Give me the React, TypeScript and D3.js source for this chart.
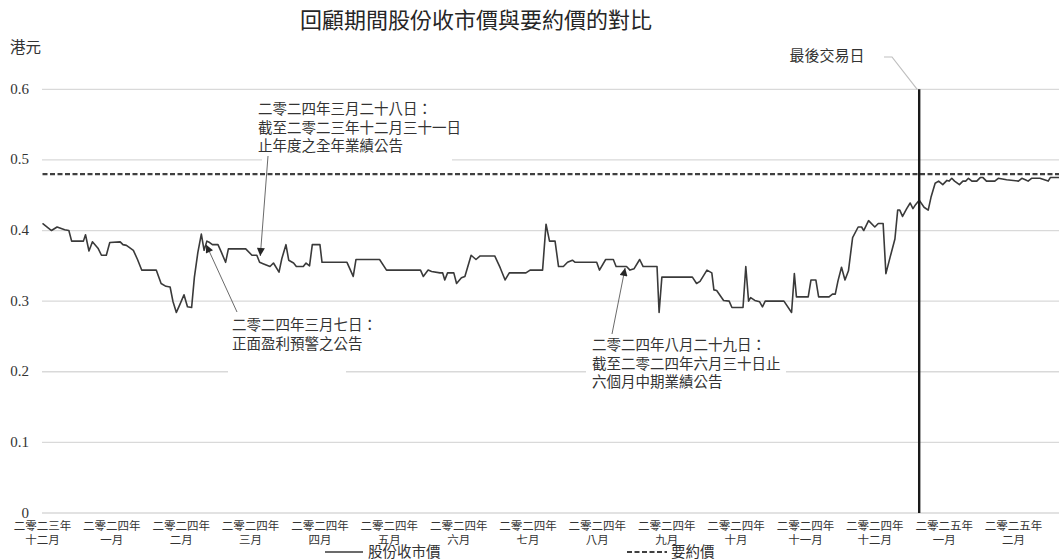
import { scaleLinear, line as d3_line } from "d3";

// x is measured in months from the start of Dec 2023 (category slots are evenly spaced)
const monthYears = [
  "二零二三年", "二零二四年", "二零二四年", "二零二四年", "二零二四年", "二零二四年", "二零二四年", "二零二四年",
  "二零二四年", "二零二四年", "二零二四年", "二零二四年", "二零二四年", "二零二五年", "二零二五年",
];
const monthNames = [
  "十二月", "一月", "二月", "三月", "四月", "五月", "六月", "七月",
  "八月", "九月", "十月", "十一月", "十二月", "一月", "二月",
];
const yTicks = [0, 0.1, 0.2, 0.3, 0.4, 0.5, 0.6];
const yTickLabels = ["0", "0.1", "0.2", "0.3", "0.4", "0.5", "0.6"];

const offerPrice = 0.48;
const lastTradingDay = 12.64;
const periodEnd = 14.66;

const priceMonth = [
  0.0, 0.13, 0.21, 0.32, 0.38, 0.42, 0.59, 0.62, 0.67, 0.72, 0.8, 0.85, 0.92, 0.97, 1.12, 1.16, 1.21, 1.31, 1.37,
  1.43, 1.64, 1.68, 1.71, 1.78, 1.84, 1.88, 1.93, 1.98, 2.04, 2.09, 2.15, 2.19, 2.24, 2.29, 2.33, 2.37, 2.41, 2.45,
  2.53, 2.58, 2.64, 2.68, 2.93, 3.02, 3.09, 3.13, 3.18, 3.28, 3.33, 3.41, 3.45, 3.51, 3.55, 3.62, 3.66, 3.76, 3.8,
  3.85, 3.89, 4.0, 4.03, 4.39, 4.48, 4.52, 4.86, 4.96, 5.45, 5.49, 5.56, 5.61, 5.73, 5.77, 5.8, 5.84, 5.93, 5.97,
  6.04, 6.09, 6.18, 6.25, 6.31, 6.52, 6.6, 6.67, 6.73, 6.97, 7.03, 7.21, 7.26, 7.31, 7.39, 7.44, 7.51, 7.57, 7.64,
  7.68, 7.99, 8.03, 8.12, 8.23, 8.27, 8.42, 8.47, 8.53, 8.61, 8.66, 8.86, 8.89, 8.93, 9.37, 9.43, 9.48, 9.58, 9.65,
  9.68, 9.72, 9.82, 9.9, 9.94, 10.1, 10.14, 10.18, 10.21, 10.27, 10.34, 10.38, 10.42, 10.69, 10.8, 10.84, 10.87,
  11.04, 11.08, 11.15, 11.19, 11.34, 11.39, 11.43, 11.47, 11.52, 11.57, 11.62, 11.68, 11.76, 11.81, 11.84, 11.91,
  12.0, 12.05, 12.12, 12.16, 12.22, 12.29, 12.33, 12.36, 12.4, 12.46, 12.51, 12.55, 12.59, 12.64, 12.71, 12.77,
  12.81, 12.87, 12.92, 12.98, 13.04, 13.07, 13.11, 13.15, 13.22, 13.27, 13.31, 13.35, 13.4, 13.47, 13.52, 13.56,
  13.61, 13.73, 13.78, 13.9, 14.07, 14.12, 14.17, 14.21, 14.26, 14.38, 14.5, 14.53, 14.66,
];
const priceHKD = [
  0.41, 0.4, 0.405, 0.401, 0.4, 0.385, 0.385, 0.394, 0.371, 0.384, 0.375, 0.365, 0.365, 0.383, 0.384, 0.38, 0.379,
  0.372, 0.359, 0.344, 0.344, 0.333, 0.325, 0.321, 0.32, 0.3, 0.284, 0.295, 0.309, 0.292, 0.291, 0.334, 0.369,
  0.395, 0.372, 0.385, 0.383, 0.38, 0.38, 0.369, 0.355, 0.374, 0.374, 0.365, 0.365, 0.355, 0.353, 0.349, 0.354,
  0.341, 0.36, 0.38, 0.358, 0.354, 0.349, 0.349, 0.354, 0.35, 0.38, 0.38, 0.355, 0.355, 0.335, 0.359, 0.359, 0.344,
  0.344, 0.335, 0.344, 0.342, 0.34, 0.34, 0.33, 0.34, 0.34, 0.325, 0.333, 0.335, 0.365, 0.359, 0.364, 0.364, 0.347,
  0.33, 0.34, 0.34, 0.344, 0.344, 0.409, 0.385, 0.385, 0.349, 0.349, 0.355, 0.358, 0.355, 0.355, 0.344, 0.359,
  0.359, 0.349, 0.349, 0.344, 0.346, 0.359, 0.349, 0.349, 0.284, 0.334, 0.334, 0.325, 0.328, 0.344, 0.34, 0.316,
  0.315, 0.301, 0.3, 0.291, 0.291, 0.349, 0.3, 0.305, 0.301, 0.299, 0.292, 0.3, 0.3, 0.284, 0.339, 0.306, 0.306,
  0.33, 0.33, 0.306, 0.306, 0.31, 0.31, 0.329, 0.348, 0.33, 0.343, 0.39, 0.405, 0.405, 0.4, 0.414, 0.405, 0.41,
  0.41, 0.339, 0.362, 0.388, 0.429, 0.429, 0.42, 0.431, 0.439, 0.431, 0.437, 0.443, 0.433, 0.429, 0.447, 0.467,
  0.47, 0.465, 0.471, 0.47, 0.474, 0.47, 0.465, 0.47, 0.47, 0.474, 0.47, 0.47, 0.475, 0.475, 0.47, 0.47, 0.474,
  0.472, 0.47, 0.474, 0.472, 0.47, 0.474, 0.474, 0.47, 0.475, 0.475,
];

// announcements: text lines, arrow tip on the price line (data units)
const noteLines = [
  ["二零二四年三月二十八日：", "截至二零二三年十二月三十一日", "止年度之全年業績公告"],
  ["二零二四年三月七日：", "正面盈利預警之公告"],
  ["二零二四年八月二十九日：", "截至二零二四年六月三十日止", "六個月中期業績公告"],
];
const noteTipMonth = [3.14, 2.36, 8.4];
const noteTipValue = [0.364, 0.38, 0.347];

const FONT = "'Liberation Serif', 'Noto Sans CJK TC', serif";
const TEXT = "#333333";

export default function App() {
  const x = scaleLinear().domain([0, periodEnd]).range([42.5, 1059.3]);
  const y = scaleLinear().domain([0, 0.6]).range([513, 89.3]);

  const pts = priceMonth.map((m, i) => [m, priceHKD[i]] as [number, number]);
  const pricePath = d3_line<[number, number]>()
    .x((d) => x(d[0]))
    .y((d) => y(d[1]))(pts) ?? "";

  // text position, white backing box, arrow tail (px)
  const noteLayout = [
    { tx: 258, ty: 114, box: [262, 96, 190, 70], tail: [268, 156] },
    { tx: 232, ty: 330, box: [228, 312, 118, 64], tail: [237, 312] },
    { tx: 592, ty: 350, box: [586, 336, 200, 58], tail: [612, 334] },
  ];

  return (
    <svg
      width={1059}
      height={560}
      style={{ position: "absolute", left: 0, top: 0, display: "block", background: "#fff" }}
      fontFamily={FONT}
    >
      <defs>
        <marker id="tip" viewBox="0 0 10 10" refX="10" refY="5" markerWidth="9" markerHeight="8" markerUnits="userSpaceOnUse" orient="auto">
          <path d="M0,0 L10,5 L0,10 z" fill="#262626" />
        </marker>
      </defs>

      {/* title */}
      <text x={476} y={28} textAnchor="middle" fontSize={22} fill="#262626">
        回顧期間股份收市價與要約價的對比
      </text>
      <text x={10} y={53} fontSize={15.5} fill={TEXT}>
        港元
      </text>

      {/* grid + y ticks */}
      {yTicks.map((t, i) => (
        <g key={i}>
          <line x1={42} x2={1059} y1={y(t)} y2={y(t)} stroke="#d9d9d9" strokeWidth={1.3} />
          <text x={29} y={y(t) + 4.5} textAnchor="end" fontSize={15} fill={TEXT}>
            {yTickLabels[i]}
          </text>
        </g>
      ))}

      {/* white boxes behind annotations */}
      {noteLayout.map((n, i) => (
        <rect key={i} x={n.box[0]} y={n.box[1]} width={n.box[2]} height={n.box[3]} fill="#fff" />
      ))}

      {/* offer price */}
      <line
        x1={x(0)}
        x2={x(periodEnd)}
        y1={y(offerPrice)}
        y2={y(offerPrice)}
        stroke="#404040"
        strokeWidth={2.2}
        strokeDasharray="5,2.5"
      />

      {/* closing price */}
      <path d={pricePath} fill="none" stroke="#3a3a3a" strokeWidth={1.6} strokeLinejoin="round" />

      {/* last trading day */}
      <line x1={x(lastTradingDay)} x2={x(lastTradingDay)} y1={y(0.6)} y2={y(0)} stroke="#1a1a1a" strokeWidth={2.4} />
      <path
        d={`M884,57 L892,57 L${x(lastTradingDay) - 2},${y(0.6)}`}
        fill="none"
        stroke="#bfbfbf"
        strokeWidth={1.2}
      />
      <text x={827} y={61} textAnchor="middle" fontSize={15} fill={TEXT}>
        最後交易日
      </text>

      {/* annotations */}
      {noteLayout.map((n, i) => (
        <g key={i}>
          <line
            x1={n.tail[0]}
            y1={n.tail[1]}
            x2={x(noteTipMonth[i])}
            y2={y(noteTipValue[i])}
            stroke="#595959"
            strokeWidth={0.9}
            markerEnd="url(#tip)"
          />
          {noteLines[i].map((s, j) => (
            <text key={j} x={n.tx} y={n.ty + j * 18.5} fontSize={14.5} fill={TEXT}>
              {s}
            </text>
          ))}
        </g>
      ))}

      {/* x axis labels */}
      {monthNames.map((m, i) => (
        <g key={i} fontSize={11.5} fill={TEXT} textAnchor="middle">
          <text x={x(i)} y={530}>
            {monthYears[i]}
          </text>
          <text x={x(i)} y={543.5}>
            {m}
          </text>
        </g>
      ))}

      {/* legend */}
      <line x1={325} x2={363} y1={552} y2={552} stroke="#3a3a3a" strokeWidth={1.6} />
      <text x={368} y={557} fontSize={14.5} fill={TEXT}>
        股份收市價
      </text>
      <line x1={627} x2={667} y1={552} y2={552} stroke="#404040" strokeWidth={2.2} strokeDasharray="5,2.5" />
      <text x={671} y={557} fontSize={14.5} fill={TEXT}>
        要約價
      </text>
    </svg>
  );
}
